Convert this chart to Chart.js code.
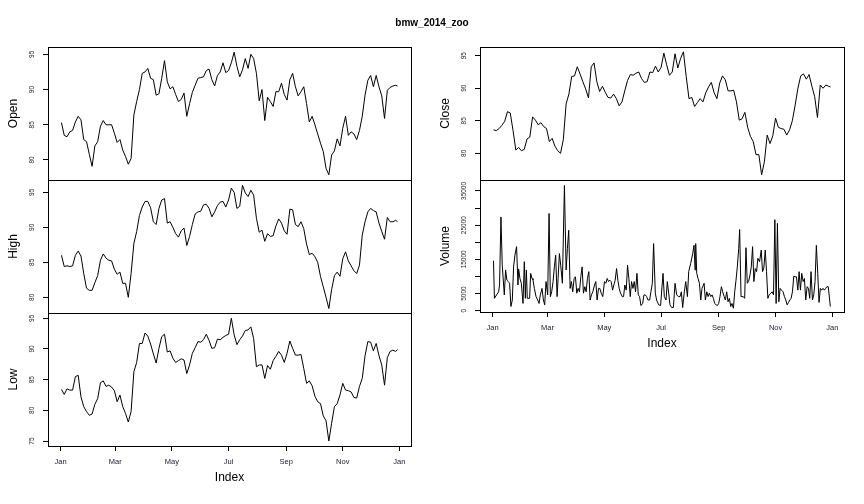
<!DOCTYPE html>
<html><head><meta charset="utf-8">
<script src="https://cdn.jsdelivr.net/npm/chart.js@4.4.1/dist/chart.umd.min.js"></script>
<style>
html,body{margin:0;padding:0;background:#fff;}
#wrap{position:relative;width:864px;height:504px;overflow:hidden;background:#fff;}
#wrap canvas{position:absolute;left:0;top:0;}
</style></head><body><div id="wrap">
<canvas id="cOpen" width="864" height="504"></canvas>
<canvas id="cHigh" width="864" height="504"></canvas>
<canvas id="cLow" width="864" height="504"></canvas>
<canvas id="cClose" width="864" height="504"></canvas>
<canvas id="cVolume" width="864" height="504"></canvas>
</div>
<script>
const chartTitle = 'bmw_2014_zoo';
const xTitle = 'Index';
// x positions: day of year 2014 (0 = Jan 1 2014)
const monthTickDays = [0, 59, 120, 181, 243, 304, 365];
const monthTickLabels = ['Jan', 'Mar', 'May', 'Jul', 'Sep', 'Nov', 'Jan'];

const days = [1,4,7,10,13,16,19,22,25,28,31,34,37,40,43,46,49,52,55,58,61,64,67,70,73,76,79,82,85,88,91,94,97,100,103,106,109,112,115,118,121,124,127,130,133,136,139,142,145,148,151,154,157,160,163,166,169,172,175,178,181,184,187,190,193,196,199,202,205,208,211,214,217,220,223,226,229,232,235,238,241,244,247,250,253,256,259,262,265,268,271,274,277,280,283,286,289,292,295,298,301,304,307,310,313,316,319,322,325,328,331,334,337,340,343,346,349,352,355,358,361,363];

const openValues = [
85.3,83.5,83.3,84.0,84.2,85.4,86.2,85.7,82.9,82.6,
80.8,79.1,82.0,82.6,84.8,85.6,85.0,85.0,85.0,83.8,
82.5,82.9,81.4,80.5,79.4,80.2,86.4,88.3,90.0,92.3,
92.5,93.0,91.6,91.4,89.2,89.4,91.6,94.1,91.1,90.1,
90.4,89.3,88.3,88.6,89.5,86.2,88.0,89.6,90.6,91.6,
91.7,91.8,92.7,92.9,91.4,90.5,92.0,92.5,93.8,92.4,
92.7,93.8,95.3,93.3,91.8,92.8,94.4,93.0,95.0,94.4,
92.3,88.4,90.0,85.6,88.9,88.3,87.6,89.7,89.7,90.9,
89.3,88.5,91.4,92.3,90.4,89.1,89.7,90.4,88.0,85.4,
86.2,85.0,83.7,82.4,81.2,78.8,77.9,80.7,81.3,83.0,
82.0,84.5,86.2,83.5,84.0,83.7,82.9,84.2,86.2,89.2,
91.3,92.0,90.4,92.0,90.4,89.1,85.9,89.9,90.3,90.5,
90.6,90.5];

const highValues = [
86.0,84.4,84.5,84.4,84.5,86.0,86.6,85.9,83.4,81.3,
81.0,81.0,82.1,83.1,85.3,86.2,85.6,85.3,85.2,84.0,
83.3,83.6,82.0,82.0,80.0,83.4,87.7,89.4,91.7,92.9,
93.7,93.7,92.8,90.8,90.4,92.7,93.9,94.1,90.6,90.8,
90.0,89.1,88.6,89.5,89.9,87.4,88.7,90.4,91.9,92.2,
92.3,93.2,93.3,92.7,91.5,92.2,93.1,93.6,93.7,92.9,
93.9,95.6,95.0,92.7,93.0,96.0,94.9,94.4,95.3,94.6,
91.3,89.3,89.6,88.0,89.1,88.7,88.8,90.2,91.2,90.6,
89.5,89.0,92.6,92.5,90.4,90.1,90.8,89.8,87.6,86.1,
86.3,85.8,85.0,83.0,81.5,80.0,78.4,81.1,83.1,83.6,
83.0,85.5,86.5,85.2,84.5,83.8,83.4,84.6,88.9,90.8,
92.2,92.7,92.4,92.2,90.6,89.4,88.3,91.4,90.8,90.8,
91.0,90.8];

const lowValues = [
83.4,82.6,83.5,83.3,83.3,85.5,85.7,82.2,80.6,79.8,
79.2,79.4,81.0,81.9,84.5,84.8,83.9,84.1,83.8,83.2,
81.4,82.5,80.6,79.5,78.1,79.8,86.3,87.8,90.9,90.9,
92.6,92.1,90.8,89.2,87.7,90.1,92.0,92.4,89.5,89.7,
88.5,87.8,88.1,88.4,88.2,86.0,87.4,89.3,90.2,91.2,
91.1,91.5,92.4,91.4,90.1,90.2,91.6,91.5,91.9,92.2,
92.4,95.0,92.3,90.7,91.5,92.1,93.0,93.1,93.6,91.7,
87.1,87.4,87.4,85.2,87.3,86.7,88.1,88.8,89.6,89.0,
87.8,89.3,91.3,90.1,89.0,89.0,89.1,86.8,84.4,84.8,
84.0,82.3,81.4,81.1,79.1,78.3,75.0,77.9,80.6,81.1,
82.5,84.4,83.3,83.2,83.0,82.1,82.0,83.9,85.2,88.9,
91.2,91.1,89.7,90.9,88.9,87.4,84.1,88.6,89.6,89.8,
89.6,89.9];

const closeValues = [
83.6,83.5,83.8,84.3,84.9,86.4,86.2,83.5,80.5,80.9,
80.4,80.6,82.2,82.5,85.6,85.1,84.4,84.7,84.1,83.8,
81.8,82.3,81.1,80.4,80.0,82.1,87.6,89.1,91.8,91.9,
93.3,92.2,91.0,89.9,88.5,93.3,93.9,91.0,89.5,90.3,
89.4,88.6,88.5,89.1,88.4,87.3,87.9,89.6,91.2,92.1,
92.0,92.3,92.5,91.5,90.9,91.0,92.5,92.4,93.4,92.5,
93.2,95.4,93.6,92.0,92.5,95.3,93.1,94.6,95.6,91.8,
88.4,88.6,87.2,87.8,88.4,87.9,89.3,90.2,90.9,89.3,
88.4,90.8,91.9,91.3,89.6,89.6,89.7,87.9,85.1,85.3,
86.3,84.0,82.6,81.8,79.8,79.8,76.7,78.7,82.8,81.5,
82.7,85.4,84.0,83.8,83.7,82.8,83.6,85.0,87.4,90.0,
91.9,92.2,91.4,92.1,90.3,88.7,85.5,90.5,90.0,90.5,
90.3,90.2];

const volumeDays = [
1.0,2.0,4.3,6.5,7.5,9.0,10.4,12.6,14.0,15.4,
16.9,18.3,19.7,21.2,22.6,24.0,25.8,27.3,28.0,29.4,
30.9,32.7,34.1,35.2,36.3,37.3,39.8,40.9,42.4,43.4,
44.9,46.7,48.5,49.9,51.3,53.1,54.6,56.0,57.4,59.2,
60.7,62.1,63.5,65.0,66.4,67.8,69.3,70.4,71.8,73.2,
75.0,77.2,79.0,80.4,81.8,83.3,84.7,86.1,87.6,89.0,
90.5,91.9,93.3,94.8,96.2,97.6,99.1,100.5,101.9,103.4,
104.8,106.2,107.7,109.5,110.9,112.3,113.8,115.2,116.7,118.4,
120.2,121.7,123.1,124.6,126.0,127.4,128.9,130.3,131.7,133.2,
134.6,136.0,137.5,139.3,140.7,142.1,143.6,145.0,146.4,147.9,
149.3,150.8,152.2,153.6,155.1,156.5,157.9,159.4,161.2,162.6,
164.0,165.5,166.9,168.7,170.1,171.6,173.0,174.8,176.2,178.4,
180.5,183.1,184.5,186.3,187.7,189.2,190.6,192.4,194.2,196.0,
197.8,199.6,201.4,202.8,204.2,206.0,207.5,209.3,210.7,212.8,
215.0,216.4,217.5,218.2,219.3,220.7,222.2,223.6,225.0,227.2,
228.6,230.1,231.5,232.9,234.4,235.8,237.2,238.6,240.1,241.5,
242.9,244.3,245.8,247.2,248.7,250.1,251.5,252.9,254.4,255.8,
257.2,258.7,260.1,261.5,262.9,264.4,265.4,266.9,269.3,270.8,
272.2,273.6,275.0,276.5,277.9,279.3,280.7,282.2,283.6,285.0,
286.8,288.6,290.0,291.4,292.9,294.3,295.7,297.1,298.9,300.3,
301.8,303.2,304.6,306.0,307.5,308.9,310.3,312.1,313.5,315.0,
316.4,317.9,319.3,320.7,322.1,323.6,325.0,326.4,327.9,329.3,
330.7,332.1,333.6,335.0,336.4,337.9,339.3,340.7,342.1,343.6,
345.0,346.4,347.8,349.3,350.7,352.1,353.6,355.0,356.4,357.8,
359.2,360.6,362.8];

const volumeValues = [
14600,3600,4600,5500,7500,27400,13300,4600,11900,8900,
8500,8000,1200,3100,12800,16200,18700,7500,12200,9400,
8000,2100,14300,3600,11900,3600,3600,10900,9400,9000,
6500,4100,3100,2100,4600,6500,3100,1700,8500,4600,
28400,4100,5500,8500,12800,16200,4100,9400,16700,13300,
8000,36600,11900,18200,23500,6500,8500,5500,9400,9900,
5100,6500,5500,9900,12800,5100,7000,5500,9400,11400,
3100,4600,5500,7500,8500,3100,6500,6500,5100,4100,
8500,8000,9400,8500,8900,8500,6000,7500,8900,12300,
8900,6500,5100,4100,4100,7500,6000,13300,9400,4100,
8500,6500,8500,5500,10900,4600,4100,1500,2100,4600,
4600,4100,3100,3100,5500,8000,19600,5100,3100,1700,
1500,10900,4100,3100,8500,5100,1700,900,900,8000,
4600,4100,4100,5500,900,5500,8500,4100,11400,13800,
16700,19100,11900,19600,10900,9400,8000,3100,6500,8000,
3100,5500,4100,5100,4100,4600,3600,2100,1700,1500,
2100,4100,7000,5500,4100,3100,5500,2600,3600,1200,
2100,700,5500,8900,12800,18200,23700,4100,4100,3600,
18400,8000,8500,10400,12800,18700,8500,12300,11400,15300,
14300,17700,11400,12500,17700,11400,3600,4600,5100,5500,
4600,26600,2100,25500,2600,6500,6000,5500,4100,3100,
1700,2400,3100,3600,5500,10100,9900,9900,6000,11400,
6000,10900,8500,9400,3100,7000,6500,3600,11400,3100,
4600,8500,19100,10900,2400,6500,6000,6500,6000,6500,
7000,7000,1200];

const priceTicksOpen = [80, 85, 90, 95];
const priceTicksHigh = [80, 85, 90, 95];
const priceTicksLow = [75, 80, 85, 90, 95];
const priceTicksClose = [80, 85, 90, 95];
const volumeTicks = [0, 5000, 10000, 15000, 20000, 25000, 30000, 35000];
const volumeTickLabels = [0, 5000, 15000, 25000, 35000];

const FONT = '"Liberation Sans", Arial, Helvetica, sans-serif';
const W = 864, H = 504, Y_AXIS_W = 48, X_AXIS_H = 40;

const boxPlugin = {
  id: 'panelBox',
  afterDraw(chart) {
    const a = chart.chartArea, ctx = chart.ctx;
    ctx.save();
    ctx.strokeStyle = '#000';
    ctx.lineWidth = 1;
    ctx.strokeRect(Math.round(a.left) + 0.5, Math.round(a.top) + 0.5,
      Math.round(a.right) - Math.round(a.left), Math.round(a.bottom) - Math.round(a.top));
    ctx.restore();
  }
};

function yLabelPlugin(labels) {
  return {
    id: 'rotatedYLabels',
    afterDraw(chart) {
      const s = chart.scales.y, ctx = chart.ctx;
      ctx.save();
      ctx.fillStyle = '#1a1a2e';
      ctx.font = '6.5px ' + FONT;
      ctx.textAlign = 'center';
      ctx.textBaseline = 'middle';
      labels.forEach(v => {
        ctx.save();
        ctx.translate(chart.chartArea.left - 16, s.getPixelForValue(v));
        ctx.rotate(-Math.PI / 2);
        ctx.fillText(String(v), 0, 0);
        ctx.restore();
      });
      ctx.restore();
    }
  };
}

const titlePlugin = {
  id: 'mainTitle',
  afterDraw(chart) {
    const ctx = chart.ctx;
    ctx.save();
    ctx.fillStyle = '#000';
    ctx.font = 'bold 10px ' + FONT;
    ctx.textAlign = 'center';
    ctx.textBaseline = 'middle';
    ctx.fillText(chartTitle, 432, 23.5);
    ctx.restore();
  }
};

function makePanel(id, cfg) {
  const box = cfg.box;
  const padding = {
    left: box.l - Y_AXIS_W,
    top: box.t,
    right: W - box.r,
    bottom: H - box.b - (cfg.showX ? X_AXIS_H : 0)
  };
  const plugins = [boxPlugin, yLabelPlugin(cfg.yLabels)];
  if (cfg.withTitle) plugins.push(titlePlugin);
  return new Chart(document.getElementById(id), {
    type: 'line',
    data: {
      datasets: [{
        data: cfg.xs.map((x, i) => ({ x: x, y: cfg.ys[i] })),
        borderColor: '#000',
        borderWidth: 1,
        pointRadius: 0,
        fill: false,
        tension: 0
      }]
    },
    options: {
      responsive: false,
      animation: false,
      devicePixelRatio: 1,
      events: [],
      layout: { padding: padding },
      plugins: { legend: { display: false }, tooltip: { enabled: false } },
      scales: {
        x: {
          type: 'linear', min: -13.5, max: 377.5, display: cfg.showX,
          afterBuildTicks: s => { s.ticks = monthTickDays.map(v => ({ value: v })); },
          afterFit: s => { s.height = cfg.showX ? X_AXIS_H : 0; s.paddingLeft = 0; s.paddingRight = 0; },
          ticks: {
            autoSkip: false, maxRotation: 0, minRotation: 0, padding: 6,
            color: '#1a1a2e', font: { family: FONT, size: 7.5 },
            callback: v => { const i = monthTickDays.indexOf(v); return i >= 0 ? monthTickLabels[i] : ''; }
          },
          grid: { drawOnChartArea: false, drawTicks: true, tickLength: 5, color: '#000', lineWidth: 1 },
          border: { display: false },
          title: { display: true, text: xTitle, color: '#000', font: { family: FONT, size: 12 }, padding: { top: 0, bottom: 1 } }
        },
        y: {
          type: 'linear', position: 'left', min: cfg.yMin, max: cfg.yMax,
          afterBuildTicks: s => { s.ticks = cfg.yTicks.map(v => ({ value: v })); },
          afterFit: s => { s.width = Y_AXIS_W; s.paddingTop = 0; s.paddingBottom = 0; },
          ticks: { display: false },
          grid: { drawOnChartArea: false, drawTicks: true, tickLength: 5, color: '#000', lineWidth: 1 },
          border: { display: false },
          title: { display: true, text: cfg.label, color: '#000', font: { family: FONT, size: 12 }, padding: { top: 6, bottom: 0 } }
        }
      }
    },
    plugins: plugins
  });
}

makePanel('cOpen', { xs: days, ys: openValues, label: 'Open', box: { l: 48, t: 47, r: 411, b: 180 },
  yMin: 77.16, yMax: 96.04, yTicks: priceTicksOpen, yLabels: priceTicksOpen, showX: false, withTitle: true });
makePanel('cHigh', { xs: days, ys: highValues, label: 'High', box: { l: 48, t: 180, r: 411, b: 313 },
  yMin: 77.76, yMax: 96.76, yTicks: priceTicksHigh, yLabels: priceTicksHigh, showX: false });
makePanel('cLow', { xs: days, ys: lowValues, label: 'Low', box: { l: 48, t: 313, r: 411, b: 446 },
  yMin: 74.19, yMax: 95.86, yTicks: priceTicksLow, yLabels: priceTicksLow, showX: true });
makePanel('cClose', { xs: days, ys: closeValues, label: 'Close', box: { l: 480, t: 47, r: 844, b: 180 },
  yMin: 75.90, yMax: 96.34, yTicks: priceTicksClose, yLabels: priceTicksClose, showX: false });
makePanel('cVolume', { xs: volumeDays, ys: volumeValues, label: 'Volume', box: { l: 480, t: 180, r: 844, b: 312 },
  yMin: -400, yMax: 38200, yTicks: volumeTicks, yLabels: volumeTickLabels, showX: true });
</script>
</body></html>
